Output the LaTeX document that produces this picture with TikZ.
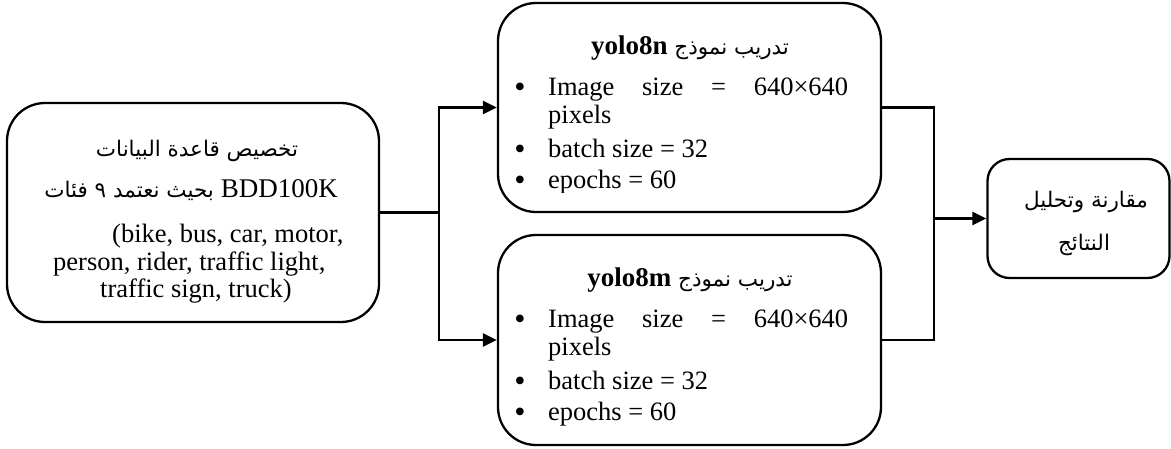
\documentclass[tikz,border=0pt]{standalone}
\usepackage{fontspec}
\setmainfont{Liberation Serif}
\newfontfamily\arabicfont[Script=Arabic]{DejaVu Sans}
\TeXXeTstate=1
\usetikzlibrary{arrows.meta}
\newcommand\latx[1]{{\fontsize{27}{28}\selectfont\rmfamily #1}}
\begin{document}
\begin{tikzpicture}[x=1pt,y=-1pt,
  box/.style={draw, line width=2.3pt, rounded corners=38pt, inner sep=0pt},
  lat/.style={font=\fontsize{26.5}{28}\selectfont, inner sep=0pt, anchor=base},
  bul/.style={font=\fontsize{32}{32}\selectfont, inner sep=0pt, anchor=base, text height=14pt, text depth=0pt},
  ar/.style={font=\fontsize{21.5}{24}\selectfont\arabicfont, inner sep=0pt, anchor=base},
  conn/.style={line width=2.3pt},
  arr/.style={conn, -{Triangle[length=14pt,width=13pt]}}]
\path[use as bounding box] (0,0) rectangle (1171,448);

% boxes
\node[box, minimum width=372pt, minimum height=219pt] (L) at (193,212.5) {};
\node[box, minimum width=383pt, minimum height=209pt] (T) at (689.5,107.5) {};
\node[box, minimum width=383pt, minimum height=210pt] (B) at (689.5,340) {};
\node[box, rounded corners=22pt, minimum width=182pt, minimum height=119pt] (R) at (1078.5,218.5) {};

% left box text
\node[ar] (l1) at (197,156) {\beginR تخصيص قاعدة البيانات\endR};
\node[ar, anchor=base east] (l2) at (338,197) {\beginR\beginL\latx{BDD100K}\endL{} بحيث نعتمد ٩ فئات\endR};
\node[lat, anchor=base west] (l3) at (112,242) {(bike, bus, car, motor,};
\node[lat, anchor=base west] (l4) at (53,270) {person, rider, traffic light,};
\node[lat, anchor=base west] (l5) at (100,297) {traffic sign, truck)};

% top middle box text
\node[ar] (t0) at (690,54) {\beginR تدريب نموذج \beginL\latx{\bfseries yolo8n}\endL\endR};
\node[bul] (tb1) at (520,97) {•};
\node[lat, anchor=base west] (tt1) at (548,95) {\hbox to 300pt{Image\hfill size\hfill =\hfill 640×640}};
\node[lat, anchor=base west] (tt2) at (548,123) {pixels};
\node[bul] (tb2) at (520,159) {•};
\node[lat, anchor=base west] (tt3) at (548,157) {batch size = 32};
\begin{scope}
\clip (500,160) rectangle (880,192);
\node[bul] (tb3) at (520,190) {•};
\node[lat, anchor=base west] (tt4) at (548,188) {epochs = 60};
\end{scope}

% bottom middle box text
\node[ar] (b0) at (690,286) {\beginR تدريب نموذج \beginL\latx{\bfseries yolo8m}\endL\endR};
\node[bul] (bb1) at (520,329) {•};
\node[lat, anchor=base west] (bt1) at (548,327) {\hbox to 300pt{Image\hfill size\hfill =\hfill 640×640}};
\node[lat, anchor=base west] (bt2) at (548,355) {pixels};
\node[bul] (bb2) at (520,391) {•};
\node[lat, anchor=base west] (bt3) at (548,389) {batch size = 32};
\node[bul] (bb3) at (520,422) {•};
\node[lat, anchor=base west] (bt4) at (548,420) {epochs = 60};

% right box text
\node[ar] (r1) at (1086,207) {\beginR مقارنة وتحليل\endR};
\node[ar] (r2) at (1084,250) {\beginR النتائج\endR};

% connectors
\coordinate (j1) at (439,212.5);
\draw[conn] (L.east) -- (j1);
\draw[arr] (j1) |- (T.west);
\draw[arr] (j1) |- (B.west);
\coordinate (j2) at (934,218.5);
\draw[conn] (T.east) -| (j2);
\draw[conn] (B.east) -| (j2);
\draw[arr] (j2) -- (R.west);
\end{tikzpicture}
\end{document}
